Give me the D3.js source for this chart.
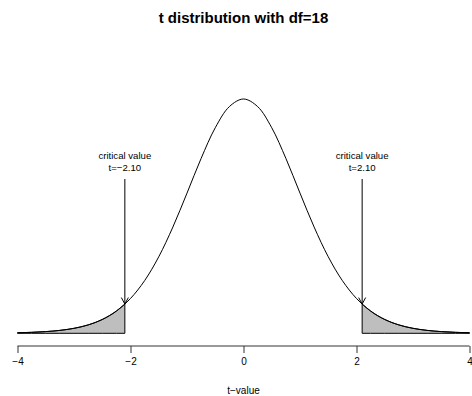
<!DOCTYPE html>
<html>
<head>
<meta charset="utf-8">
<script src="https://cdn.jsdelivr.net/npm/d3@7"></script>
<style>
  body { margin: 0; background: #fff; }
  svg text { font-family: "Liberation Sans", Arial, sans-serif; fill: #000; }
</style>
</head>
<body>
<svg id="chart"></svg>
<script>
// density of t with df=18
const tValues = [-4, -3.75, -3.5, -3.25, -3, -2.75, -2.5, -2.25, -2, -1.75, -1.5, -1.25, -1, -0.75, -0.5, -0.25,
  0, 0.25, 0.5, 0.75, 1, 1.25, 1.5, 1.75, 2, 2.25, 2.5, 2.75, 3, 3.25, 3.5, 3.75, 4];
const density = [0.00094, 0.00163, 0.00284, 0.00490, 0.00835, 0.01405, 0.02318, 0.03736, 0.05848, 0.08844, 0.12851, 0.17842, 0.23540, 0.29372, 0.34513, 0.38070,
  0.39344, 0.38070, 0.34513, 0.29372, 0.23540, 0.17842, 0.12851, 0.08844, 0.05848, 0.03736, 0.02318, 0.01405, 0.00835, 0.00490, 0.00284, 0.00163, 0.00094];
const criticalT = [-2.10, 2.10];
const criticalDensity = [0.04907, 0.04907];
const criticalLabels = ["t=\u22122.10", "t=2.10"];
const xTicks = [-4, -2, 0, 2, 4];

const width = 472, height = 396;
const svg = d3.select("#chart").attr("width", width).attr("height", height);

let x = d3.scaleLinear().domain([-4, 4]).range([17.5, 469.5]);
let y = d3.scaleLinear().domain([0, 0.39344]).range([333.3, 99]);

const pts = tValues.map((t, i) => ({t: t, d: density[i]}));

/* shaded tails */
const leftTail = pts.filter(p => p.t < criticalT[0]).concat([{t: criticalT[0], d: criticalDensity[0]}]);
const rightTail = [{t: criticalT[1], d: criticalDensity[1]}].concat(pts.filter(p => p.t > criticalT[1]));

let area = d3.area().x(p => x(p.t)).y0(y(0)).y1(p => y(p.d)).curve(d3.curveMonotoneX);
[leftTail, rightTail].forEach(function(tail) {
  svg.append("path")
    .attr("d", area(tail))
    .attr("fill", "#bebebe")
    .attr("stroke", "#000")
    .attr("stroke-width", 1);
});

/* curve */
let line = d3.line().x(p => x(p.t)).y(p => y(p.d)).curve(d3.curveCatmullRom);
svg.append("path")
  .attr("d", line(pts))
  .attr("fill", "none")
  .attr("stroke", "#000")
  .attr("stroke-width", 1);

/* arrows + labels */
criticalT.forEach(function(t, i) {
  let cx = x(t), tip = y(criticalDensity[i]);
  svg.append("line")
    .attr("x1", cx).attr("x2", cx)
    .attr("y1", 179).attr("y2", tip)
    .attr("stroke", "#000").attr("stroke-width", 1);
  svg.append("path")
    .attr("d", "M" + (cx - 3.5) + "," + (tip - 6.5) + "L" + cx + "," + tip + "L" + (cx + 3.5) + "," + (tip - 6.5))
    .attr("fill", "none").attr("stroke", "#000").attr("stroke-width", 1);
  svg.append("text").text("critical value")
    .attr("x", cx).attr("y", 159)
    .attr("text-anchor", "middle")
    .attr("font-size", "9.6px");
  svg.append("text").text(criticalLabels[i])
    .attr("x", cx).attr("y", 170.5)
    .attr("text-anchor", "middle")
    .attr("font-size", "9.6px");
});

/* x axis */
let xAxis = d3.axisBottom(x).tickValues(xTicks).tickSize(7).tickPadding(5)
  .tickFormat(d => d < 0 ? "\u2212" + Math.abs(d) : d);
let gx = svg.append("g")
  .attr("transform", "translate(0,346)")
  .call(xAxis);
gx.select(".domain").attr("d", "M" + x(-4) + ",0H" + x(4)).attr("stroke", "#333");
gx.selectAll(".tick line").attr("stroke", "#333");
gx.selectAll("text").attr("font-size", "10px").attr("font-family", "Liberation Sans, Arial, sans-serif");

svg.append("text").text("t\u2212value")
  .attr("x", x(0)).attr("y", 394)
  .attr("text-anchor", "middle")
  .attr("font-size", "10px");

/* title */
svg.append("text").text("t distribution with df=18")
  .attr("x", x(0)).attr("y", 23)
  .attr("text-anchor", "middle")
  .attr("font-size", "15px")
  .attr("font-weight", "bold");
</script>
</body>
</html>
